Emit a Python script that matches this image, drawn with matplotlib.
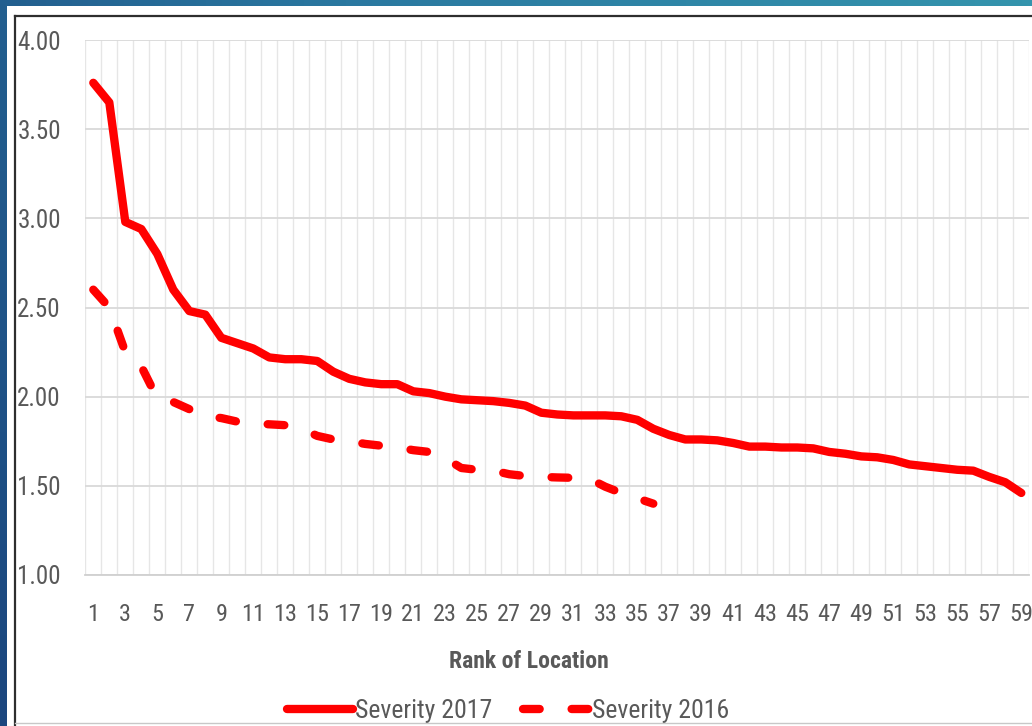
import numpy as np
import matplotlib
matplotlib.use("Agg")
import matplotlib.pyplot as plt
import matplotlib.font_manager as fm
from matplotlib.patches import Rectangle
from matplotlib.lines import Line2D
from matplotlib.colors import LinearSegmentedColormap

#==========================================================================
#			DATA
#==========================================================================
rank = list(range(1, 60))
sev2017 = [3.76, 3.65, 2.98, 2.94, 2.80, 2.60, 2.48, 2.46, 2.33, 2.30,
           2.27, 2.22, 2.21, 2.21, 2.20, 2.14, 2.10, 2.08, 2.07, 2.07,
           2.03, 2.02, 2.00, 1.985, 1.98, 1.975, 1.965, 1.95, 1.91, 1.90,
           1.895, 1.895, 1.895, 1.89, 1.87, 1.82, 1.785, 1.76, 1.76, 1.755,
           1.74, 1.72, 1.72, 1.715, 1.715, 1.71, 1.69, 1.68, 1.665, 1.66,
           1.645, 1.62, 1.61, 1.60, 1.59, 1.585, 1.55, 1.52, 1.46]
rank2016 = list(range(1, 37))
sev2016 = [2.60, 2.50, 2.25, 2.17, 1.99, 1.97, 1.93, 1.89, 1.88, 1.86,
           1.85, 1.845, 1.84, 1.82, 1.78, 1.76, 1.75, 1.735, 1.725, 1.715,
           1.70, 1.69, 1.655, 1.60, 1.59, 1.585, 1.565, 1.555, 1.55, 1.547,
           1.545, 1.54, 1.495, 1.46, 1.43, 1.40]
yticks = [1.0, 1.5, 2.0, 2.5, 3.0, 3.5, 4.0]
xticks = list(range(1, 60, 2))

#==========================================================================
#			FONT (narrow face if one is installed)
#==========================================================================
avail = {f.name for f in fm.fontManager.ttflist}
narrow = ['Liberation Sans Narrow', 'Roboto Condensed', 'Open Sans Condensed',
          'Noto Sans Condensed', 'Noto Sans SemiCondensed', 'Arial Narrow']
fam = next((c for c in narrow if c in avail), None)
stretch = 'normal'
scale = 1.0
if fam is None:
    if any(f.name == 'Noto Sans' and 'condensed' in str(f.stretch) for f in fm.fontManager.ttflist):
        fam, stretch = 'Noto Sans', 'condensed'
    else:
        fam, scale = 'Liberation Sans', 0.88
plt.rcParams['font.family'] = [fam, 'DejaVu Sans']
plt.rcParams['font.stretch'] = stretch
plt.rcParams['lines.scale_dashes'] = False

#==========================================================================
#			STYLE
#==========================================================================
W, H = 1032, 726
red = '#ff0000'
txtcol = '#595959'
lw = 6.0
dash = (0, (12.0, 23.0))

fig = plt.figure(figsize=(W / 100., H / 100.), dpi=100)

# blue gradient background
bg = fig.add_axes([0, 0, 1, 1], zorder=-10)
gx, gy = np.meshgrid(np.linspace(0, 1, 200), np.linspace(0, 1, 200))
grad = 0.75 * gx + 0.25 * (1 - gy)
cmap_bg = LinearSegmentedColormap.from_list('bg', ['#1b467e', '#2a78a0', '#3494ad'])
bg.imshow(grad, cmap=cmap_bg, aspect='auto', extent=[0, 1, 0, 1])
bg.axis('off')

# white panel + frame
fig.patches.append(Rectangle((7. / W, 0), 1, (H - 6.) / H, transform=fig.transFigure,
                             facecolor='white', edgecolor='none', zorder=-5))
fig.lines.append(Line2D([15. / W, 15. / W], [0, (H - 16.) / H], transform=fig.transFigure,
                        color='#2e2e2e', lw=1.6))
fig.lines.append(Line2D([15. / W, 1], [(H - 16.) / H, (H - 16.) / H], transform=fig.transFigure,
                        color='#2e2e2e', lw=1.6))
fig.lines.append(Line2D([15. / W, 1], [3. / H, 3. / H], transform=fig.transFigure,
                        color='#c8c8c8', lw=1.0))

#==========================================================================
#			PLOTTING
#==========================================================================
ax = fig.add_axes([85.3 / W, 151. / H, 944. / W, 535. / H])
ax.set_facecolor('none')

ax.plot(rank, sev2017, color=red, lw=lw, solid_capstyle='round',
        solid_joinstyle='round', label='Severity 2017', zorder=3)
ax.plot(rank2016, sev2016, color=red, lw=lw, linestyle=dash,
        dash_capstyle='round', dash_joinstyle='round', label='Severity 2016', zorder=3)

ax.set_xlim(0.5, 59.5)
ax.set_ylim(1.0, 4.0)
ax.set_yticks(yticks)
ax.set_yticklabels(['%.2f' % v for v in yticks])
ax.set_xticks(xticks)
ax.set_xticklabels([str(v) for v in xticks])
ax.set_xticks(np.arange(0.5, 60.0, 1.0), minor=True)

ax.grid(axis='y', which='major', color='#d9d9d9', lw=1.3, zorder=0)
ax.grid(axis='x', which='minor', color='#e6e6e6', lw=1.0, zorder=0)
ax.tick_params(which='both', length=0)
ax.tick_params(axis='y', pad=17.5, labelsize=18 * scale, labelcolor=txtcol)
ax.tick_params(axis='x', pad=20.5, labelsize=17.5 * scale, labelcolor=txtcol)
for s in ['top', 'right', 'left']:
    ax.spines[s].set_visible(False)
ax.spines['bottom'].set_color('#d0d0d0')
ax.spines['bottom'].set_linewidth(1.3)

fig.text(529. / W, (H - 661.) / H, 'Rank of Location', ha='center', va='center',
         fontsize=17 * scale, fontweight='bold', color=txtcol)

leg = ax.legend(loc='center', bbox_to_anchor=(508. / W, (H - 711.) / H),
                bbox_transform=fig.transFigure, ncol=2, frameon=False,
                fontsize=18.5 * scale, handlelength=2.55 / scale, handletextpad=0.1,
                columnspacing=1.2 / scale, borderpad=0, labelcolor=txtcol)

plt.savefig('out.png', dpi=100)
